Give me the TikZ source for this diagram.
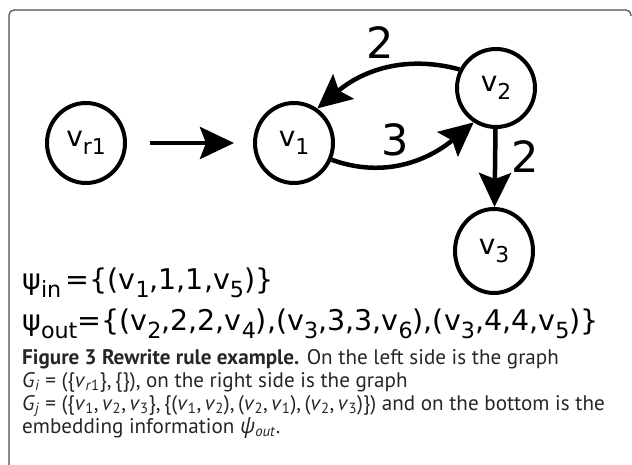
\documentclass[tikz,border=0pt]{standalone}
\usepackage{fontspec}
\setmainfont{PT Sans}
\newfontfamily\dv{DejaVu Sans}
\newfontfamily\grk{Open Sans}
\usetikzlibrary{arrows.meta,shapes.geometric}
\newcommand{\lo}[1]{\raisebox{-0.3em}{\scalebox{0.78}{#1}}}
\begin{document}
\begin{tikzpicture}[x=1pt,y=1pt,
  vertex/.style={draw,line width=4pt,ellipse,minimum width=78pt,minimum height=80pt,inner sep=0pt,font=\dv\fontsize{28}{32}\selectfont},
  edge/.style={line width=4.5pt,-{Stealth[length=34pt,width=32pt,inset=6pt]}},
  weight/.style={inner sep=0pt,font=\dv\fontsize{43}{48}\selectfont},
  formula/.style={anchor=base west,inner sep=0pt,font=\dv\fontsize{28.5}{34}\selectfont},
  captxt/.style={anchor=base west,inner sep=0pt,font=\fontsize{21.1}{25}\selectfont,text=black!85}]
\useasboundingbox (0,0) rectangle (632,-465);
\draw[line width=1.2pt,black!70,rounded corners=5pt] (9,-465) -- (9,-10) -- (631,-10) -- (631,-16);
% vertices
\node[vertex] (vr1) at (86,-143) {v\lo{r1}};
\node[vertex] (v1) at (294,-143) {v\lo{1}};
\node[vertex,minimum height=78pt] (v2) at (496,-88) {v\lo{2}};
\node[vertex,minimum height=84pt] (v3) at (494,-251) {v\lo{3}};
% edges
\draw[edge,shorten <=23pt,shorten >=19pt] (vr1) -- (v1);
\draw[edge] (v2.153) to[out=165,in=40] (v1.56);
\draw[edge] (v1.-24) to[out=-20,in=220] (v2.237);
\draw[edge] (v2) -- (v3);
% weights
\node[weight] (w21) at (380,-43) {2};
\node[weight] (w12) at (395,-140) {3};
\node[weight] (w23) at (525,-157) {2};
% formulas
\node[formula] (psin) at (22,-289) {ψ\lo{in}\hspace{0.15em}=\{(v\lo{1},1,1,v\lo{5})\}};
\node[formula] (psout) at (22,-330) {ψ\lo{out}=\{(v\lo{2},2,2,v\lo{4}),(v\lo{3},3,3,v\lo{6}),(v\lo{3},4,4,v\lo{5})\}};
% caption
\node[captxt] (c1) at (22,-364) {{\bfseries Figure 3 Rewrite rule example.} On the left side is the graph};
\node[captxt] (c2) at (22,-387) {\textit{G}\textsubscript{\textit{i}} = (\{\textit{v}\textsubscript{\textit{r}1}\},\thinspace\{\}), on the right side is the graph};
\node[captxt] (c3) at (22,-410) {\textit{G}\textsubscript{\textit{j}} = (\{\textit{v}\textsubscript{1},\thinspace\textit{v}\textsubscript{2},\thinspace\textit{v}\textsubscript{3}\},\thinspace\{(\textit{v}\textsubscript{1},\thinspace\textit{v}\textsubscript{2}),\thinspace(\textit{v}\textsubscript{2},\thinspace\textit{v}\textsubscript{1}),\thinspace(\textit{v}\textsubscript{2},\thinspace\textit{v}\textsubscript{3})\}) and on the bottom is the};
\node[captxt] (c4) at (22,-433) {embedding information {\grk\itshape ψ}\textsubscript{\textit{out}}.};
\end{tikzpicture}
\end{document}
